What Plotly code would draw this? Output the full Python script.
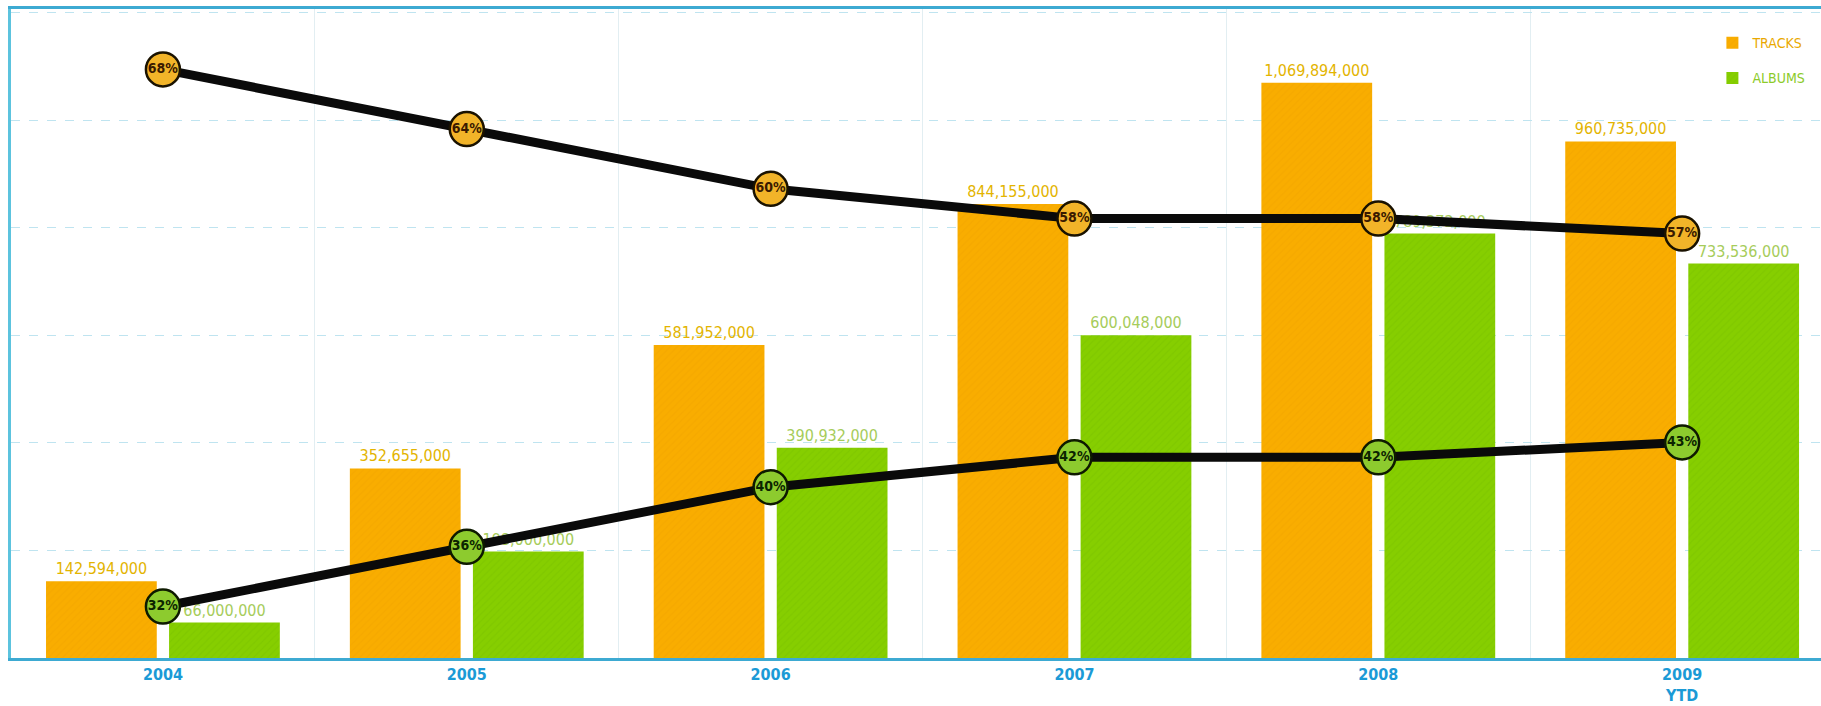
import plotly.graph_objects as go

years = ["2004", "2005", "2006", "2007", "2008", "2009<br>YTD"]
tracks = [142594000, 352655000, 581952000, 844155000, 1069894000, 960735000]
albums = [66000000, 198000000, 390932000, 600048000, 789372000, 733536000]
track_pct = [68, 64, 60, 58, 58, 57]
album_pct = [32, 36, 40, 42, 42, 43]

xpos = list(range(len(years)))

NARROW = "Liberation Sans Narrow, DejaVu Sans Condensed, Arial Narrow, sans-serif"
ORANGE = "#F9AD00"
GREEN = "#86CE00"

fig = go.Figure()

fig.add_trace(go.Bar(
    x=xpos, y=tracks, name="<span style='color:#E9A800'>TRACKS</span>",
    marker=dict(color=ORANGE, line=dict(width=0),
                pattern=dict(shape="/", fgcolor="#E89A00", fgopacity=0.25, size=5, solidity=0.25)),
    text=[f"{v:,}" for v in tracks], textposition="outside",
    textfont=dict(family=NARROW, size=16, color="#E3B400"),
    cliponaxis=False, legendgroup="t",
))
fig.add_trace(go.Bar(
    x=xpos, y=albums, name="<span style='color:#8CCB2A'>ALBUMS</span>",
    marker=dict(color=GREEN, line=dict(width=0),
                pattern=dict(shape="/", fgcolor="#6FB800", fgopacity=0.3, size=5, solidity=0.25)),
    text=[f"{v:,}" for v in albums], textposition="outside",
    textfont=dict(family=NARROW, size=16, color="#A6CC5A"),
    cliponaxis=False, legendgroup="a",
))

fig.add_trace(go.Scatter(
    x=xpos, y=track_pct, yaxis="y2", mode="lines+markers+text",
    line=dict(color="#0A0A0A", width=9),
    marker=dict(size=34, color="#F2B429", line=dict(color="#1A1200", width=2.5)),
    text=[f"{v}%" for v in track_pct], textposition="middle center",
    textfont=dict(family=NARROW, size=14, color="#3A1A00", weight="bold"),
    showlegend=False, cliponaxis=False,
))
fig.add_trace(go.Scatter(
    x=xpos, y=album_pct, yaxis="y2", mode="lines+markers+text",
    line=dict(color="#0A0A0A", width=9),
    marker=dict(size=34, color="#8DCB2E", line=dict(color="#0E1A00", width=2.5)),
    text=[f"{v}%" for v in album_pct], textposition="middle center",
    textfont=dict(family=NARROW, size=14, color="#0C2400", weight="bold"),
    showlegend=False, cliponaxis=False,
))

fig.update_layout(
    width=1821, height=706,
    margin=dict(l=11, r=0, t=9, b=48, autoexpand=False),
    paper_bgcolor="white", plot_bgcolor="white",
    barmode="group", bargap=0.19, bargroupgap=0.1,
    xaxis=dict(
        range=[-0.5, 5.457], tickvals=xpos, ticktext=years,
        tickfont=dict(family=NARROW, size=16, color="#1B9AD6", weight="bold"),
        ticklabelstandoff=0, automargin=False,
        showgrid=False, zeroline=False,
        showline=True, linecolor="#3DAAD2", linewidth=3, mirror=True,
        minor=dict(tick0=0.5, dtick=1, showgrid=True, gridcolor="#E2EEF2", gridwidth=1),
    ),
    yaxis=dict(
        range=[0, 1.207e9], dtick=2e8, showticklabels=False, automargin=False,
        showgrid=True, gridcolor="#BFE4F0", griddash="dash", gridwidth=1,
        zeroline=False, showline=True, linecolor="#5CC3DE", linewidth=3,
    ),
    yaxis2=dict(
        range=[28.55, 72.05], overlaying="y", side="right", automargin=False,
        showgrid=False, showticklabels=False, zeroline=False, showline=False,
    ),
    legend=dict(
        x=0.94, y=0.972, xanchor="left", yanchor="top",
        bgcolor="rgba(0,0,0,0)", tracegroupgap=14,
        font=dict(family=NARROW, size=14), itemwidth=30,
    ),
)

fig.write_html("out.html")
